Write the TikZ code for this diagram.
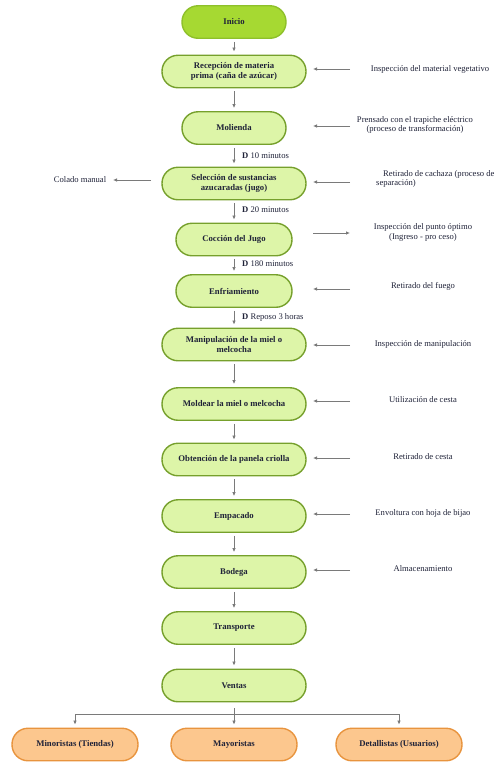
\documentclass[tikz,border=0pt]{standalone}
\usepackage{fontspec}
\setmainfont{Liberation Serif}
\usetikzlibrary{arrows.meta}
\definecolor{txt}{HTML}{1F2238}
\definecolor{gfill}{HTML}{DDF5A8}
\definecolor{gdraw}{HTML}{76A02C}
\definecolor{ifill}{HTML}{A6D932}
\definecolor{idraw}{HTML}{8EC02A}
\definecolor{ofill}{HTML}{FCC78E}
\definecolor{odraw}{HTML}{E8943E}
\definecolor{arr}{HTML}{7A7A7A}
\tikzset{
  stadium/.style={draw=gdraw, fill=gfill, line width=1.4pt, rounded corners=16pt,
    minimum height=32.5pt, inner sep=1pt, align=center, text=txt,
    font=\bfseries\fontsize{8.7}{10}\selectfont},
  startbox/.style={stadium, draw=idraw, fill=ifill},
  endbox/.style={stadium, draw=odraw, fill=ofill},
  side/.style={text=txt, align=center, inner sep=0pt, font=\fontsize{8.6}{9.6}\selectfont},
  dur/.style={text=txt, anchor=west, inner sep=0pt, font=\fontsize{8.6}{9.6}\selectfont},
  conn/.style={draw=arr, line width=1pt, -{Latex[length=4pt,width=3.6pt]}},
  vconn/.style={conn, shorten <=3pt, shorten >=3pt},
}
\begin{document}
\begin{tikzpicture}[x=1pt,y=-1pt]
\useasboundingbox (0,0) rectangle (503,769);
% main boxes
\node[startbox, minimum width=104pt] (ini) at (234,22) {Inicio};
\node[stadium, minimum width=144pt] (rec) at (234,71.5) {Recepción de materia\\prima (caña de azúcar)};
\node[stadium, minimum width=104pt] (mol) at (234,128) {Molienda};
\node[stadium, minimum width=144pt] (sel) at (234,183.5) {Selección de sustancias\\azucaradas (jugo)};
\node[stadium, minimum width=116pt] (coc) at (234,239.5) {Cocción del Jugo};
\node[stadium, minimum width=116pt] (enf) at (234,291) {Enfriamiento};
\node[stadium, minimum width=144pt] (man) at (234,344.5) {Manipulación de la miel o\\melcocha};
\node[stadium, minimum width=144pt] (mold) at (234,404) {Moldear la miel o melcocha};
\node[stadium, minimum width=144pt] (obt) at (234,459.5) {Obtención de la panela criolla};
\node[stadium, minimum width=144pt] (emp) at (234,516) {Empacado};
\node[stadium, minimum width=144pt] (bod) at (234,572) {Bodega};
\node[stadium, minimum width=144pt] (tra) at (234,628) {Transporte};
\node[stadium, minimum width=144pt] (ven) at (234,685.5) {Ventas};
\node[endbox, minimum width=126pt] (mino) at (75,744.5) {Minoristas (Tiendas)};
\node[endbox, minimum width=126pt] (mayo) at (234,744.5) {Mayoristas};
\node[endbox, minimum width=126pt] (deta) at (399,744.5) {Detallistas (Usuarios)};
% vertical connectors
\draw[vconn] (ini) -- (rec);
\draw[vconn] (rec) -- (mol);
\draw[vconn] (mol) -- (sel);
\draw[vconn] (sel) -- (coc);
\draw[vconn] (coc) -- (enf);
\draw[vconn] (enf) -- (man);
\draw[vconn] (man) -- (mold);
\draw[vconn] (mold) -- (obt);
\draw[vconn] (obt) -- (emp);
\draw[vconn] (emp) -- (bod);
\draw[vconn] (bod) -- (tra);
\draw[vconn] (tra) -- (ven);
% branch
\coordinate (br) at (234,714);
\draw[draw=arr, line width=1pt, shorten <=6pt] (ven) -- (br);
\draw[conn, shorten >=3pt] (br) -| (mino);
\draw[conn, shorten >=3pt] (br) -- (mayo);
\draw[conn, shorten >=3pt] (br) -| (deta);
% durations
\node[dur] (d1) at (242,156) {\textbf{D} 10 minutos};
\node[dur] (d2) at (242,210) {\textbf{D} 20 minutos};
\node[dur] (d3) at (242,264) {\textbf{D} 180 minutos};
\node[dur] (d4) at (242,317) {\textbf{D} Reposo 3 horas};
% side labels
\node[side] (t1) at (430,69) {Inspección del material vegetativo};
\node[side] (t2) at (415,125) {Prensado con el trapiche eléctrico\\(proceso de transformación)};
\node[side, align=left, anchor=west] (t3) at (376,179) {\hspace{7pt}Retirado de cachaza (proceso de\\separación)};
\node[side] (t3l) at (80,180) {Colado manual};
\node[side] (t4) at (423,232.5) {Inspección del punto óptimo\\(Ingreso - pro ceso)};
\node[side] (t5) at (423,286) {Retirado del fuego};
\node[side] (t6) at (423,344) {Inspección de manipulación};
\node[side] (t7) at (423,400) {Utilización de cesta};
\node[side] (t8) at (423,457) {Retirado de cesta};
\node[side] (t9) at (423,513) {Envoltura con hoja de bijao};
\node[side] (t10) at (423,569) {Almacenamiento};
% side arrow coordinates
\foreach \n/\y in {1/69,2/126,3/182,5/289,6/345,7/401,8/458,9/514,10/570}{
  \coordinate (a\n) at (350,\y);
  \coordinate (b\n) at (313,\y);
  \draw[conn] (a\n) -- (b\n);
}
\coordinate (a4) at (313,233);
\coordinate (b4) at (350,233);
\draw[conn] (a4) -- (b4);
\coordinate (la) at (151,180);
\coordinate (lb) at (113,180);
\draw[conn] (la) -- (lb);
\end{tikzpicture}
\end{document}
